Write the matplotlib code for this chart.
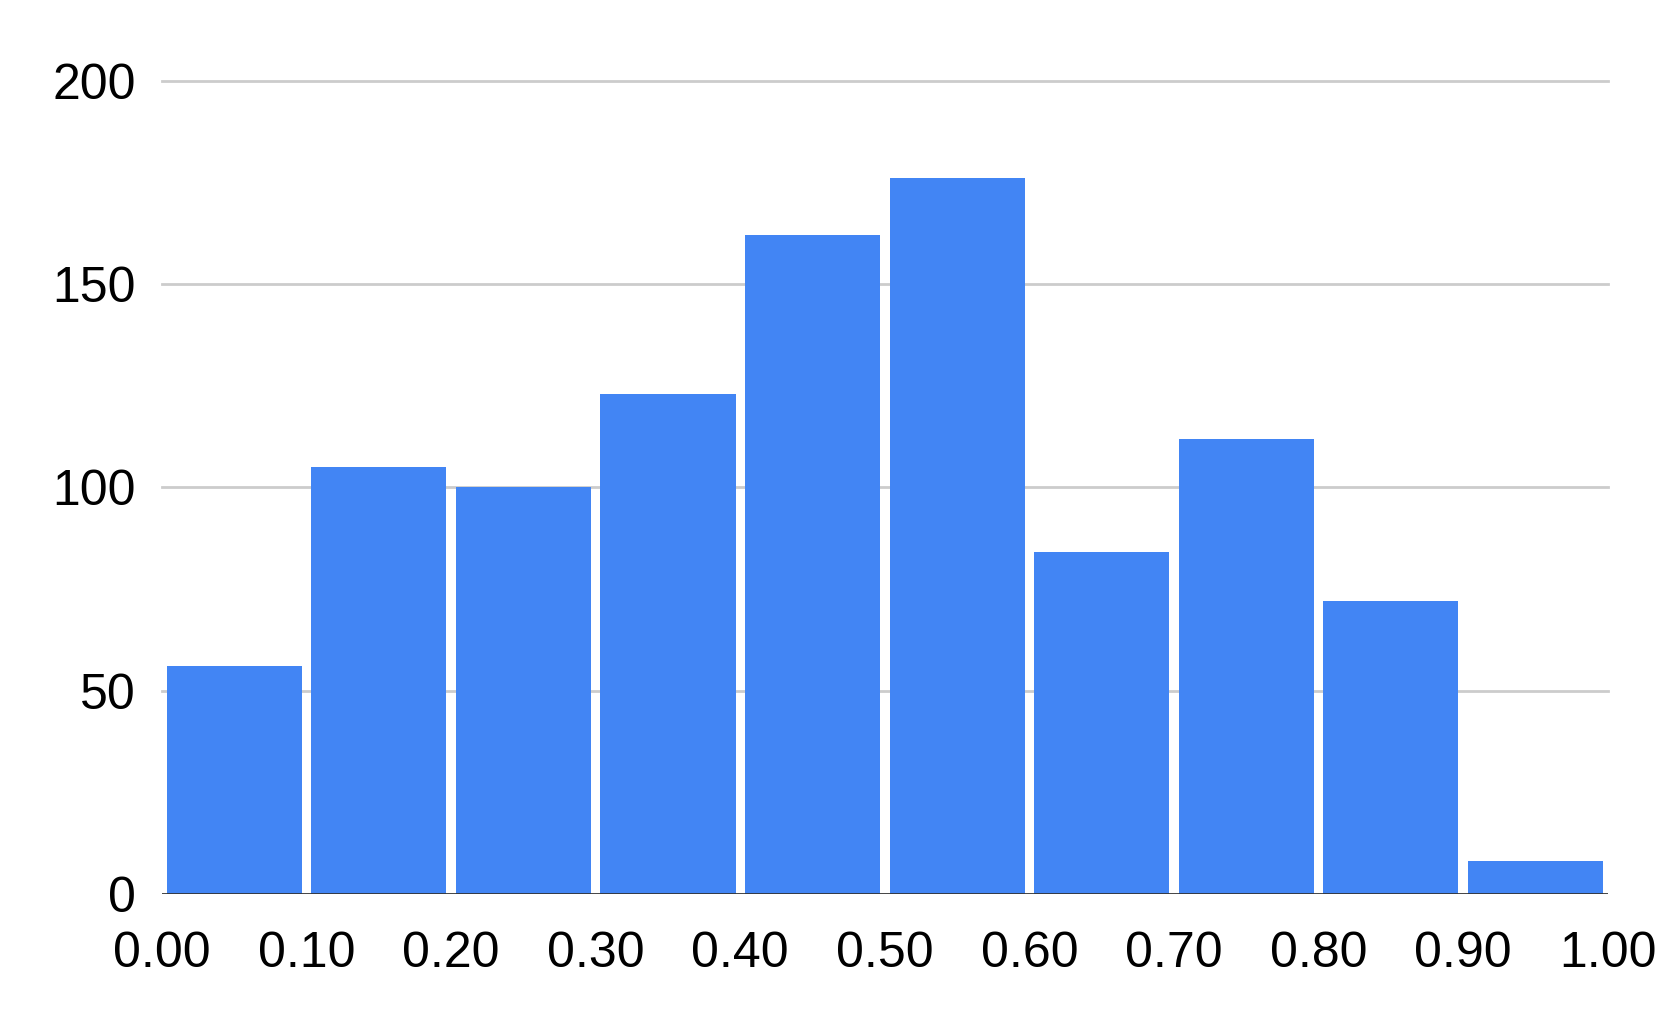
import numpy as np
import matplotlib.pyplot as plt

plt.rcParams['font.family'] = ['Liberation Sans', 'DejaVu Sans']

# histogram bins and counts
bin_edges = [0.0, 0.1, 0.2, 0.3, 0.4, 0.5, 0.6, 0.7, 0.8, 0.9, 1.0]
counts = [56, 105, 100, 123, 162, 176, 84, 112, 72, 8]
x_ticks = [0.0, 0.1, 0.2, 0.3, 0.4, 0.5, 0.6, 0.7, 0.8, 0.9, 1.0]
y_ticks = [0, 50, 100, 150, 200]

fig = plt.figure(figsize=(16.61, 10.31), dpi=100)
ax = fig.add_axes([0.0975, 0.133, 0.8705, 0.7887])

edges = np.array(bin_edges)
centers = (edges[:-1] + edges[1:]) / 2
widths = np.diff(edges) * 0.934
ax.bar(centers, counts, width=widths, color='#4285F4', zorder=3)

ax.set_xlim(0, 1)
ax.set_ylim(0, 200)
ax.set_xticks(x_ticks)
ax.set_xticklabels([f"{v:.2f}" for v in x_ticks])
ax.set_yticks(y_ticks)
ax.set_yticklabels([str(v) for v in y_ticks])

for y in y_ticks[1:]:
    ax.axhline(y, color='#cccccc', lw=2, zorder=1, clip_on=False)
ax.axhline(0, color='#333333', lw=2, zorder=4)

for s in ax.spines.values():
    s.set_visible(False)
ax.tick_params(axis='both', length=0, labelsize=36, labelcolor='black')
ax.tick_params(axis='y', pad=19)
ax.tick_params(axis='x', pad=27)

fig.savefig('out.png', dpi=100, facecolor='white')
